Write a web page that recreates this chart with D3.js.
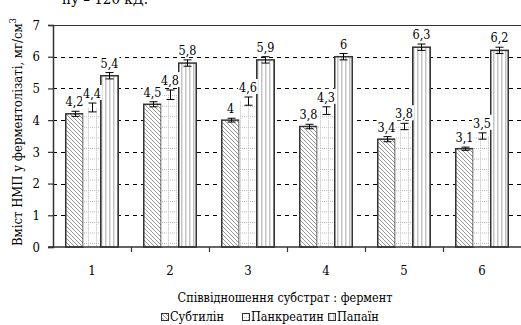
<!DOCTYPE html>
<html>
<head>
<meta charset="utf-8">
<script src="https://cdn.jsdelivr.net/npm/d3@7/dist/d3.min.js"></script>
<style>
  body { margin: 0; background: #fff; }
  svg { display: block; }
</style>
</head>
<body>
<div id="chart"></div>
<script>
// дані
var categories = ['1', '2', '3', '4', '5', '6'];
var seriesNames = ['Субтилін', 'Панкреатин', 'Папаїн'];
var subtilisin = [4.2, 4.5, 4.0, 3.8, 3.4, 3.1];
var pancreatin = [4.4, 4.8, 4.6, 4.3, 3.8, 3.5];
var papain = [5.4, 5.8, 5.9, 6.0, 6.3, 6.2];
var errSubtilisin = [0.08, 0.08, 0.06, 0.07, 0.08, 0.05];
var errPancreatin = [0.14, 0.15, 0.13, 0.12, 0.1, 0.1];
var errPapain = [0.1, 0.1, 0.1, 0.1, 0.1, 0.1];
var yTicks = [0, 1, 2, 3, 4, 5, 6, 7];

var _width = 521, _height = 325;
var margin = { left: 53, right: 0, top: 25, bottom: 78 };
var _font = '"DejaVu Serif Condensed", "DejaVu Serif", serif';

var svg = d3.select('#chart').append('svg')
    .attr('width', _width)
    .attr('height', _height)
    .style('font-family', _font)
    .style('font-stretch', 'condensed');

// візерунки
var defs = svg.append('defs');
var p1 = defs.append('pattern')
    .attr('id', 'hatch').attr('patternUnits', 'userSpaceOnUse')
    .attr('width', 4).attr('height', 4);
p1.append('rect').attr('width', 4).attr('height', 4).attr('fill', '#fff');
p1.append('path').attr('d', 'M0,0L4,4M-1,3L1,5M3,-1L5,1')
    .attr('stroke', '#8a8a8a').attr('stroke-width', 0.9);

var p2 = defs.append('pattern')
    .attr('id', 'dots').attr('patternUnits', 'userSpaceOnUse')
    .attr('width', 8).attr('height', 10.57);
p2.append('rect').attr('width', 8).attr('height', 10.57).attr('fill', '#fff');
p2.append('path').attr('d', 'M0,0.5H8M0.5,0V10.57')
    .attr('stroke', '#b8b8b8').attr('stroke-width', 1)
    .attr('stroke-dasharray', '1,1');

var p3 = defs.append('pattern')
    .attr('id', 'stripes').attr('patternUnits', 'userSpaceOnUse')
    .attr('width', 4).attr('height', 4);
p3.append('rect').attr('width', 4).attr('height', 4).attr('fill', '#fff');
p3.append('rect').attr('x', 1).attr('width', 1.5).attr('height', 4).attr('fill', '#c4c4c4');

var fills = ['url(#hatch)', 'url(#dots)', 'url(#stripes)'];
var strokes = ['#333', 'none', '#333'];

var x0 = d3.scaleBand().domain(categories).range([margin.left, _width - margin.right]);
var x1 = d3.scaleBand().domain(seriesNames).range([0, x0.bandwidth()]).paddingOuter(0.73);
var y = d3.scaleLinear().domain([0, 7]).range([_height - margin.bottom, margin.top]);

// верхній текст (обрізаний у оригіналі)
svg.append('text').attr('x', 62).attr('y', 4)
    .attr('font-size', 15).text('ну   –  120 кД.');

// сітка
svg.append('g').selectAll('line')
    .data(yTicks.filter(function (d) { return d > 0 && d < 7; }))
    .enter().append('line')
    .attr('x1', margin.left).attr('x2', _width - margin.right)
    .attr('y1', function (d) { return Math.round(y(d)) + 0.5; })
    .attr('y2', function (d) { return Math.round(y(d)) + 0.5; })
    .attr('stroke', '#000').attr('stroke-dasharray', '4,4');

svg.append('line')
    .attr('x1', margin.left).attr('x2', _width)
    .attr('y1', Math.round(y(7)) + 0.5).attr('y2', Math.round(y(7)) + 0.5)
    .attr('stroke', '#333').attr('stroke-width', 1.2);

var values = [subtilisin, pancreatin, papain];
var errs = [errSubtilisin, errPancreatin, errPapain];
var rows = [];
categories.forEach(function (c, i) {
    seriesNames.forEach(function (s, k) {
        rows.push({ cat: c, ser: s, k: k, v: values[k][i], e: errs[k][i] });
    });
});

// стовпчики
svg.append('g').selectAll('rect')
    .data(rows).enter().append('rect')
    .attr('x', function (d) { return x0(d.cat) + x1(d.ser); })
    .attr('y', function (d) { return y(d.v); })
    .attr('width', x1.bandwidth())
    .attr('height', function (d) { return y(0) - y(d.v); })
    .attr('fill', function (d) { return fills[d.k]; })
    .attr('stroke', function (d) { return strokes[d.k]; })
    .attr('stroke-width', 1.5);

// похибки
var eb = svg.append('g').attr('stroke', '#000').attr('stroke-width', 1);
rows.forEach(function (d) {
    var cx = Math.round(x0(d.cat) + x1(d.ser) + x1.bandwidth() / 2) + 0.5;
    var ya = y(d.v + d.e), yb = y(d.v - d.e);
    eb.append('line').attr('x1', cx).attr('x2', cx).attr('y1', ya).attr('y2', yb);
    eb.append('line').attr('x1', cx - 4).attr('x2', cx + 4).attr('y1', ya).attr('y2', ya);
    eb.append('line').attr('x1', cx - 4).attr('x2', cx + 4).attr('y1', yb).attr('y2', yb);
});

// осі
var yAxis = svg.append('g')
    .attr('transform', 'translate(' + margin.left + ',0)')
    .call(d3.axisLeft(y).tickValues(yTicks).tickSize(5).tickPadding(8).tickFormat(d3.format('d')));
var xAxis = svg.append('g')
    .attr('transform', 'translate(0,' + y(0) + ')')
    .call(d3.axisBottom(x0).tickSize(0).tickPadding(19));
[yAxis, xAxis].forEach(function (a) {
    a.attr('font-size', 13).attr('font-family', null);
    a.select('.domain').attr('stroke', '#333').attr('stroke-width', 1.5);
    a.selectAll('line').attr('stroke', '#333').attr('stroke-width', 1.2);
    a.selectAll('text').attr('fill', '#000');
});
xAxis.select('.domain').attr('d', 'M' + (margin.left - 5) + ',0H' + _width);
svg.append('g').selectAll('line')
    .data(categories.slice(1)).enter().append('line')
    .attr('x1', function (d) { return Math.round(x0(d)) + 0.5; })
    .attr('x2', function (d) { return Math.round(x0(d)) + 0.5; })
    .attr('y1', y(0)).attr('y2', y(0) + 5)
    .attr('stroke', '#333').attr('stroke-width', 1.2);

// назва осі Y (стиснути, щоб влізла)
var yt = svg.append('text')
    .attr('transform', 'translate(22,' + 246 + ')rotate(-90)')
    .attr('font-size', 13);
yt.append('tspan').text('Вміст НМП у ферментолізаті, мг/см');
yt.append('tspan').attr('dy', -6).attr('font-size', 9).text('3');
var ytLen = yt.node().getComputedTextLength();
if (ytLen > 228) yt.attr('font-size', 13 * 228 / ytLen);

// назва осі X
svg.append('text').attr('x', 285).attr('y', 302)
    .attr('text-anchor', 'middle').attr('font-size', 12.5)
    .text('Співвідношення субстрат : фермент');

// легенда
var legend = svg.append('g');
var lx = [161, 242, 328];
seriesNames.forEach(function (s, k) {
    legend.append('rect')
        .attr('x', lx[k] + 0.5).attr('y', 313.5).attr('width', 7).attr('height', 7)
        .attr('fill', fills[k]).attr('stroke', '#333').attr('stroke-width', 1);
    legend.append('text').attr('x', lx[k] + 9).attr('y', 321)
        .attr('font-size', 12.5).text(s);
});

// підписи значень
var lbl = svg.append('g');
rows.forEach(function (d) {
    var cx = x0(d.cat) + x1(d.ser) + x1.bandwidth() / 2;
    var g = lbl.append('g');
    var t = g.append('text')
        .attr('x', cx).attr('y', y(d.v + d.e) - 5)
        .attr('text-anchor', 'middle').attr('font-size', 12.5)
        .text(String(d.v).replace('.', ','));
    var b = t.node().getBBox();
    g.insert('rect', 'text')
        .attr('x', b.x - 1).attr('y', b.y - 1)
        .attr('width', b.width + 2).attr('height', b.height)
        .attr('fill', '#fff');
});
</script>
</body>
</html>
